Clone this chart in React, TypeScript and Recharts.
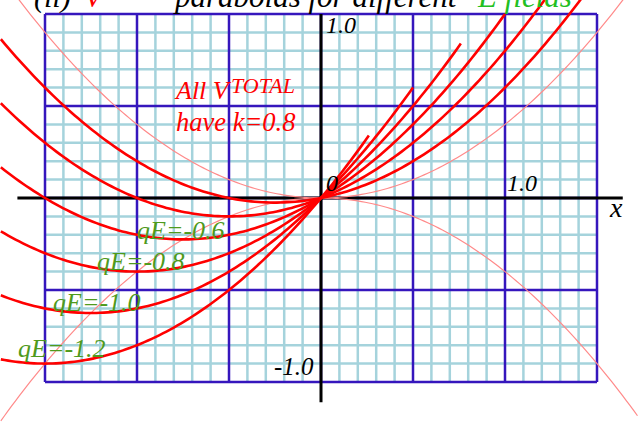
import { LineChart, Line, XAxis, YAxis, ReferenceLine } from 'recharts'

// Potential V(x) = ½·k·x² − qE·x, one curve per field strength
const SPRING_K = 0.8
const FIELD_VALUES = [-0.2, -0.4, -0.6, -0.8, -1.0, -1.2]
const CURVE_X_END = [1.5, 1.25, 1.0, 0.75, 0.5, 0.25]
const CURVE_X_START = -1.74
const LABELLED_FIELDS = ['qE=-0.6', 'qE=-0.8', 'qE=-1.0', 'qE=-1.2']

// visible window in plot units (1 unit = 184px)
const X_DOMAIN: [number, number] = [-321 / 184, 319 / 184]
const Y_DOMAIN: [number, number] = [-226 / 184, 198 / 184]

const GRID_X = [-1.5, 1.5]
const GRID_Y = [-1, 1]
const FINE_STEP = 0.1
const MAJOR_STEP = 0.5

const W = 640
const H = 424
const SERIF = '"Liberation Serif", "Times New Roman", serif'

const steps = (from: number, to: number, step: number) => {
  const out: number[] = []
  const n = Math.round((to - from) / step)
  for (let i = 0; i <= n; i++) out.push(+(from + i * step).toFixed(4))
  return out
}

const isMajor = (v: number) => Math.abs(v / MAJOR_STEP - Math.round(v / MAJOR_STEP)) < 1e-6

const sample = (f: (x: number) => number, x0: number, x1: number) =>
  steps(x0, x1, 0.02).map((x) => ({ x, v: f(x) }))

const curves = FIELD_VALUES.map((qE, i) =>
  sample((x) => 0.5 * SPRING_K * x * x - qE * x, CURVE_X_START, CURVE_X_END[i]),
)
const springUp = sample((x) => 0.5 * SPRING_K * x * x, -1.74, 1.72)
const minimaLocus = sample((x) => -0.5 * SPRING_K * x * x, -1.74, 1.72)

const xLines = steps(GRID_X[0], GRID_X[1], FINE_STEP)
const yLines = steps(GRID_Y[0], GRID_Y[1], FINE_STEP)

const FINE = '#a5d3dc'
const MAJOR = '#3516bd'
const RED = '#ff0000'
const GREEN_LABEL = '#4f9a1c'
const GREEN_TITLE = '#22c022'

const labelPos = [
  { x: 137, y: 239 },
  { x: 97, y: 270 },
  { x: 53, y: 311 },
  { x: 18, y: 357 },
]

export default function App() {
  return (
    <div style={{ position: 'fixed', left: 0, top: 0, width: W, height: H, background: '#fff' }}>
      <LineChart width={W} height={H} margin={{ top: 0, right: 0, bottom: 0, left: 0 }}>
        <XAxis type="number" dataKey="x" domain={X_DOMAIN} allowDataOverflow hide />
        <YAxis type="number" dataKey="v" domain={Y_DOMAIN} allowDataOverflow hide />

        {xLines.filter((v) => !isMajor(v)).map((v) => (
          <ReferenceLine key={`fx${v}`} ifOverflow="visible" stroke={FINE} strokeWidth={2.5}
            segment={[{ x: v, y: GRID_Y[0] }, { x: v, y: GRID_Y[1] }]} />
        ))}
        {yLines.filter((v) => !isMajor(v)).map((v) => (
          <ReferenceLine key={`fy${v}`} ifOverflow="visible" stroke={FINE} strokeWidth={2.5}
            segment={[{ x: GRID_X[0], y: v }, { x: GRID_X[1], y: v }]} />
        ))}
        {xLines.filter(isMajor).map((v) => (
          <ReferenceLine key={`mx${v}`} ifOverflow="visible" stroke={MAJOR} strokeWidth={2.5}
            segment={[{ x: v, y: GRID_Y[0] }, { x: v, y: GRID_Y[1] }]} />
        ))}
        {yLines.filter(isMajor).map((v) => (
          <ReferenceLine key={`my${v}`} ifOverflow="visible" stroke={MAJOR} strokeWidth={2.5}
            segment={[{ x: GRID_X[0], y: v }, { x: GRID_X[1], y: v }]} />
        ))}

        {/* axes */}
        <ReferenceLine ifOverflow="visible" stroke="#000" strokeWidth={3}
          segment={[{ x: -1.65, y: 0 }, { x: 1.64, y: 0 }]} />
        <ReferenceLine ifOverflow="visible" stroke="#000" strokeWidth={3}
          segment={[{ x: 0, y: 1 }, { x: 0, y: -1.11 }]} />

        <Line data={springUp} dataKey="v" type="linear" stroke="#ff8a8a" strokeWidth={1.2}
          dot={false} activeDot={false} isAnimationActive={false} />
        <Line data={minimaLocus} dataKey="v" type="linear" stroke="#ff8a8a" strokeWidth={1.2}
          dot={false} activeDot={false} isAnimationActive={false} />
        {curves.map((pts, i) => (
          <Line key={FIELD_VALUES[i]} data={pts} dataKey="v" type="linear" stroke={RED}
            strokeWidth={2.6} dot={false} activeDot={false} isAnimationActive={false} />
        ))}
      </LineChart>

      <svg width={W} height={H} style={{ position: 'absolute', left: 0, top: 0, pointerEvents: 'none' }}
        fontFamily={SERIF} fontStyle="italic">
        <text x={34} y={7} fontSize={30} fill="#000">(ii)</text>
        <text x={84} y={7} fontSize={30} fill={RED}>V</text>
        <text x={175} y={7} fontSize={31} fill="#000">parabolas for different</text>
        <text x={478} y={7} fontSize={31} fill={GREEN_TITLE}>E fields</text>

        <text x={326} y={33} fontSize={24} fill="#000">1.0</text>
        <text x={326} y={191} fontSize={24} fill="#000">0</text>
        <text x={507} y={191} fontSize={24} fill="#000">1.0</text>
        <text x={610} y={217} fontSize={28} fill="#000">x</text>
        <text x={274} y={375} fontSize={25} fill="#000">-1.0</text>

        <text x={176} y={99} fontSize={26} fill={RED}>All V</text>
        <text x={231} y={93} fontSize={22} fill={RED}>TOTAL</text>
        <text x={176} y={131} fontSize={26.5} fill={RED}>have k=0.8</text>

        {LABELLED_FIELDS.map((t, i) => (
          <text key={t} x={labelPos[i].x} y={labelPos[i].y} fontSize={26} fill={GREEN_LABEL}>{t}</text>
        ))}
      </svg>
    </div>
  )
}
